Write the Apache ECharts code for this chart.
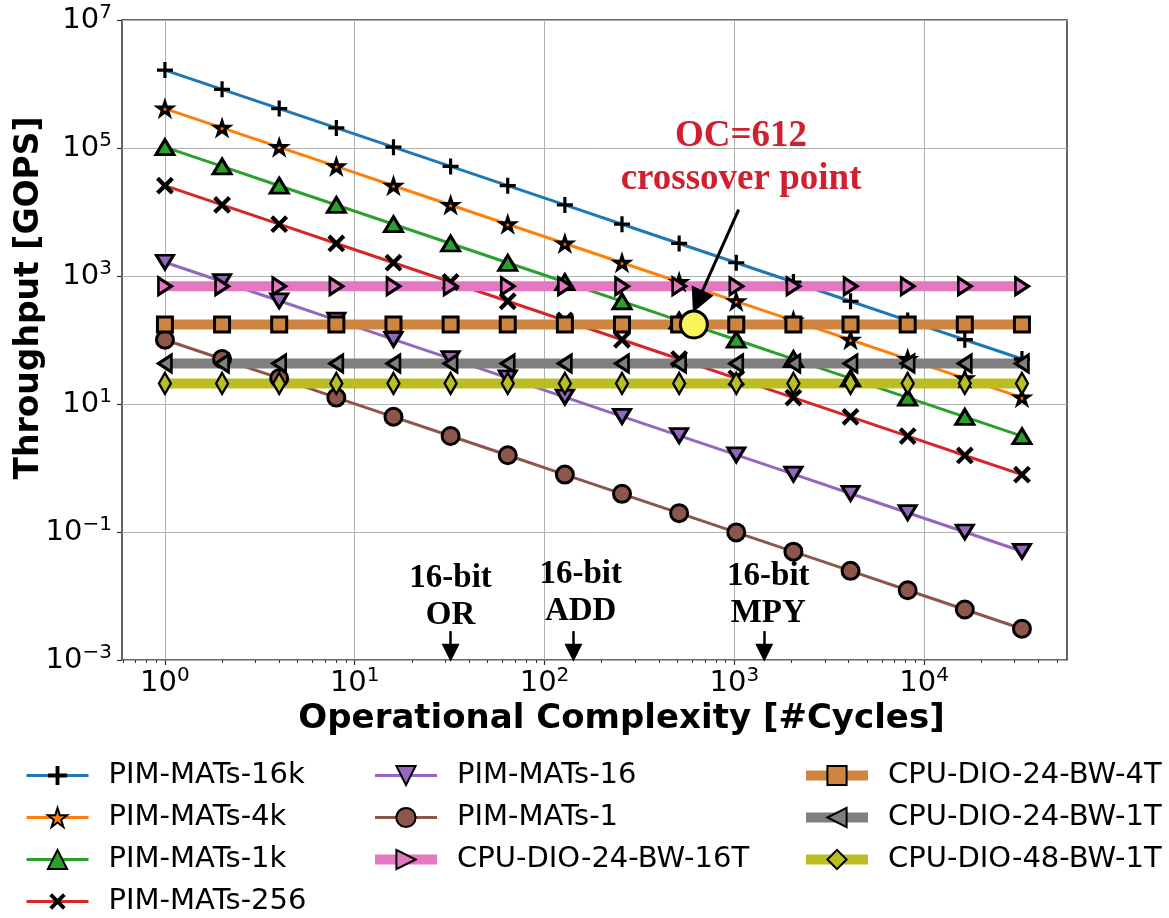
<!DOCTYPE html>
<html><head><meta charset="utf-8">
<script src="https://cdn.jsdelivr.net/npm/echarts@6/dist/echarts.min.js"></script>
<style>html,body{margin:0;padding:0;background:#fff}#c{width:1169px;height:918px}</style>
</head><body><div id="c"></div>
<script>
// ---- data ----
const oc = [1,2,4,8,16,32,64,128,256,512,1024,2048,4096,8192,16384,32768];
const pim16k = [1650000,825000,412500,206250,103125,51560,25780,12890,6445,3223,1611,806,403,201,101,50.4];
const pim4k  = [412000,206000,103000,51500,25750,12880,6440,3220,1610,805,402,201,101,50.3,25.1,12.6];
const pim1k  = [103000,51500,25750,12880,6440,3220,1610,805,402,201,101,50.3,25.1,12.6,6.29,3.14];
const pim256 = [25800,12900,6450,3225,1613,806,403,202,101,50.4,25.2,12.6,6.30,3.15,1.57,0.787];
const pim16  = [1640,820,410,205,102,51.2,25.6,12.8,6.4,3.2,1.6,0.80,0.40,0.20,0.100,0.050];
const pim1   = [101,50.5,25.3,12.6,6.31,3.16,1.58,0.789,0.395,0.197,0.0986,0.0493,0.0247,0.0123,0.00616,0.00308];
const cpu24bw16T = [692,692,692,692,692,692,692,692,692,692,692,692,692,692,692,692];
const cpu24bw4T  = [175,175,175,175,175,175,175,175,175,175,175,175,175,175,175,175];
const cpu24bw1T  = [43,43,43,43,43,43,43,43,43,43,43,43,43,43,43,43];
const cpu48bw1T  = [21,21,21,21,21,21,21,21,21,21,21,21,21,21,21,21];
const crossover = [612, 175];
const xTicks = [1,10,100,1000,10000];
const yTicks = [1e-3,1e-1,1e1,1e3,1e5,1e7];
const xMinorTicks = [0.6,0.7,0.8,0.9,2,3,4,5,6,7,8,9,20,30,40,50,60,70,80,90,200,300,400,500,600,700,800,900,2000,3000,4000,5000,6000,7000,8000,9000,20000,30000,40000,50000];
const opLabels = [[32,0.0098,'16-bit\nOR'],[155,0.0111,'16-bit\nADD'],[1510,0.0103,'16-bit\nMPY']];
const opArrows = [[32,0.00283,32,0.0013],[142,0.00283,142,0.0013],[1438,0.00283,1438,0.0013]];
const ocLabel = [1085, 70000, 'OC=612\ncrossover point'];
const ocArrow = [1054, 10860, 642, 400];

// ---- style ----
const PLUS = 'path://M8,0H12V8H20V12H12V20H8V12H0V8H8Z';
const STAR = 'path://M50,0L61.23,34.55L97.55,34.55L68.16,55.9L79.39,90.45L50,69.1L20.61,90.45L31.84,55.9L2.45,34.55L38.77,34.55Z';

function pts(arr){ return oc.map((x,i)=>[x,arr[i]]); }

function mk(name, arr, lineColor, lw, sym, size, rot, face, bw){
  return {
    name, type:'line', data:pts(arr), symbol:sym, symbolSize:size, symbolRotate:rot||0,
    symbolKeepAspect:true, showAllSymbol:true,
    lineStyle:{color:lineColor, width:lw},
    itemStyle:{color:face, borderColor:'#000', borderWidth:bw},
    emphasis:{disabled:true}
  };
}

const series = [
  mk('PIM-MATs-16k', pim16k, '#1f77b4', 3, PLUS, 16, 0, '#000', 0),
  mk('PIM-MATs-4k',  pim4k,  '#ff7f0e', 3, STAR, 14, 0, '#ff7f0e', 3),
  mk('PIM-MATs-1k',  pim1k,  '#2ca02c', 3, 'triangle', [18,15], 0, '#2ca02c', 3),
  mk('PIM-MATs-256', pim256, '#d62728', 3, PLUS, 21, 45, '#000', 0),
  mk('PIM-MATs-16',  pim16,  '#9467bd', 3, 'triangle', [17,14], 180, '#9467bd', 3),
  mk('PIM-MATs-1',   pim1,   '#8c564b', 3, 'circle', 17, 0, '#8c564b', 3),
  mk('CPU-DIO-24-BW-16T', cpu24bw16T, '#e377c2', 10, 'triangle', [17,13], -90, '#e377c2', 3),
  mk('CPU-DIO-24-BW-4T',  cpu24bw4T,  '#cd853f', 10, 'rect', 15, 0, '#cd853f', 3),
  mk('CPU-DIO-24-BW-1T',  cpu24bw1T,  '#7f7f7f', 10, 'triangle', [17,13], 90, '#7f7f7f', 3),
  mk('CPU-DIO-48-BW-1T',  cpu48bw1T,  '#bcbd22', 10, 'diamond', [12,21], 0, '#bcbd22', 2.5),
  {
    name:'crossover', type:'scatter', data:[crossover], symbolSize:27, z:5,
    itemStyle:{color:'#fbf35a', borderColor:'#000', borderWidth:3, opacity:1}, emphasis:{disabled:true}
  },
  {
    name:'ocnote', type:'scatter', z:6, silent:true,
    data:[ocLabel], symbolSize:1, itemStyle:{color:'rgba(0,0,0,0)'},
    label:{show:true, position:'inside', formatter:p=>p.value[2], color:'#d0202e',
      textBorderWidth:0, textBorderColor:'transparent', opacity:1,
      fontFamily:'Liberation Serif', fontWeight:'bold', fontSize:37, lineHeight:43, align:'center'},
    markLine:{silent:true, symbol:['none','triangle'], symbolSize:24, animation:false,
      lineStyle:{type:'solid', color:'#000', width:3, opacity:1}, label:{show:false},
      data:[[{coord:[ocArrow[0],ocArrow[1]]},{coord:[ocArrow[2],ocArrow[3]]}]]}
  },
  {
    name:'opnote', type:'scatter', z:6, silent:true,
    data:opLabels, symbolSize:1, itemStyle:{color:'rgba(0,0,0,0)'},
    label:{show:true, position:'inside', formatter:p=>p.value[2], color:'#000',
      textBorderWidth:0, textBorderColor:'transparent', opacity:1,
      fontFamily:'Liberation Serif', fontWeight:'bold', fontSize:33, lineHeight:37, align:'center'},
    markLine:{silent:true, symbol:['none','triangle'], symbolSize:18, animation:false,
      lineStyle:{type:'solid', color:'#000', width:2.5, opacity:1}, label:{show:false},
      data:opArrows.map(a=>[{coord:[a[0],a[1]]},{coord:[a[2],a[3]]}])}
  }
];

function sup(v){
  const e = Math.round(Math.log10(v));
  return '{b|10}{s|' + (e < 0 ? '\u2212' + (-e) : e) + '}';
}
const rich = {
  b:{fontSize:29, fontFamily:'DejaVu Sans', color:'#000'},
  s:{fontSize:20, fontFamily:'DejaVu Sans', color:'#000', padding:[0,0,14,0]}
};

const thin = {lineStyle:{width:3}};
const thick = {lineStyle:{width:10}};
function li(name, st){ return Object.assign({name}, st); }

const legendBase = {
  orient:'vertical', itemWidth:62, itemHeight:24, itemGap:13, selectedMode:false, padding:0, height:200,
  textStyle:{fontFamily:'DejaVu Sans', fontSize:29, lineHeight:28, color:'#000', padding:[0,0,0,15]}
};

const chart = echarts.init(document.getElementById('c'), null, {renderer:'canvas'});
chart.setOption({
  animation:false,
  backgroundColor:'#fff',
  grid:{left:122, top:20, width:945, height:640, show:true, borderColor:'#333', borderWidth:1.5,
        containLabel:false, outerBoundsMode:'none'},
  legend:[
    Object.assign({}, legendBase, {left:25, top:761, data:[li('PIM-MATs-16k',thin),li('PIM-MATs-4k',thin),li('PIM-MATs-1k',thin),li('PIM-MATs-256',thin)]}),
    Object.assign({}, legendBase, {left:370, top:761, data:[li('PIM-MATs-16',thin),li('PIM-MATs-1',thin),li('CPU-DIO-24-BW-16T',thick)]}),
    Object.assign({}, legendBase, {left:801, top:761, data:[li('CPU-DIO-24-BW-4T',thick),li('CPU-DIO-24-BW-1T',thick),li('CPU-DIO-48-BW-1T',thick)]})
  ],
  xAxis:[
    {type:'log', logBase:10, min:0.594, max:56600, position:'bottom',
     name:'Operational Complexity [#Cycles]', nameLocation:'middle', nameGap:40,
     nameTextStyle:{fontFamily:'DejaVu Sans', fontWeight:'bold', fontSize:34, color:'#000', padding:[0,0,0,54]},
     axisLine:{show:false},
     axisTick:{show:true, inside:false, length:5, customValues:xTicks, lineStyle:{color:'#333', width:1.2}},
     axisLabel:{show:true, customValues:xTicks, margin:6, formatter:sup, rich},
     splitLine:{show:true, lineStyle:{color:'#b0b0b0', width:1}},
     minorTick:{show:false}, minorSplitLine:{show:false}},
    {type:'log', logBase:10, min:0.594, max:56600, position:'bottom',
     axisLine:{show:false},
     axisTick:{show:true, inside:false, length:3, customValues:xMinorTicks, lineStyle:{color:'#333', width:1}},
     axisLabel:{show:false}, splitLine:{show:false}}
  ],
  yAxis:{type:'log', logBase:10, min:1e-3, max:1e7,
     name:'Throughput [GOPS]', nameLocation:'middle', nameGap:76, nameRotate:90, nameMoveOverlap:false,
     nameTextStyle:{fontFamily:'DejaVu Sans', fontWeight:'bold', fontSize:33, color:'#000', padding:[0,0,0,84]},
     axisLine:{show:false},
     axisTick:{show:true, inside:false, length:5, customValues:yTicks, lineStyle:{color:'#333', width:1.2}},
     axisLabel:{show:true, customValues:yTicks, margin:10, formatter:sup, rich},
     splitLine:{show:true, lineStyle:{color:'#b0b0b0', width:1}},
     minorTick:{show:false}},
  series
});
</script></body></html>
